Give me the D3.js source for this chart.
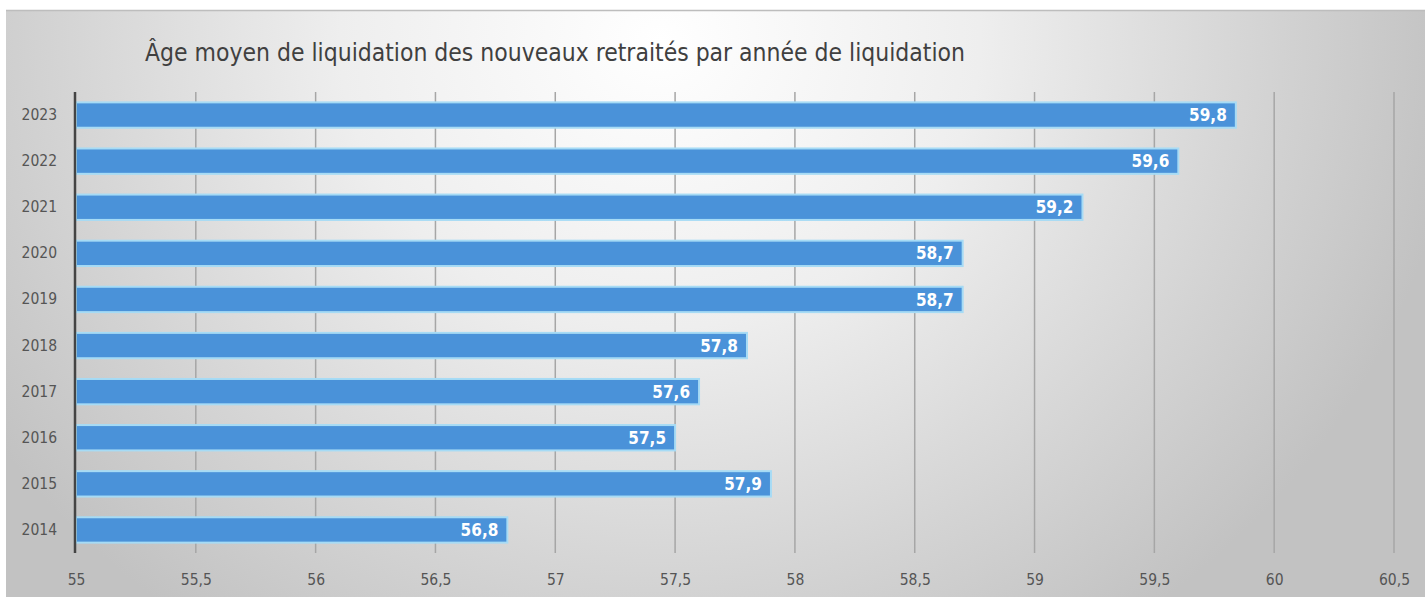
<!DOCTYPE html>
<html>
<head>
<meta charset="utf-8">
<script src="https://cdn.jsdelivr.net/npm/d3@7"></script>
<style>
  body { margin: 0; background: #fff; }
  #chart { width: 1425px; height: 601px; }
</style>
</head>
<body>
<div id="chart"></div>
<script>
// data
const years = ["2023", "2022", "2021", "2020", "2019", "2018", "2017", "2016", "2015", "2014"];
const ages = [59.84, 59.6, 59.2, 58.7, 58.7, 57.8, 57.6, 57.5, 57.9, 56.8];
const xTicks = [55, 55.5, 56, 56.5, 57, 57.5, 58, 58.5, 59, 59.5, 60, 60.5];
const title = "Âge moyen de liquidation des nouveaux retraités par année de liquidation";

const W = 1425, H = 601;
const margin = { top: 92, right: 31, bottom: 48, left: 76 };
const width = W - margin.left - margin.right,
      height = H - margin.top - margin.bottom;

const svg = d3.select("#chart").append("svg")
  .attr("width", W)
  .attr("height", H);

// background gradient of the chart box
const defs = svg.append("defs");
const grad = defs.append("radialGradient")
  .attr("id", "bg")
  .attr("gradientUnits", "userSpaceOnUse")
  .attr("cx", 660).attr("cy", 40).attr("r", 800)
  .attr("gradientTransform", "translate(660,40) scale(1,0.9) translate(-660,-40)");
grad.append("stop").attr("offset", "0%").attr("stop-color", "#ffffff");
grad.append("stop").attr("offset", "40%").attr("stop-color", "#eeeeee");
grad.append("stop").attr("offset", "75%").attr("stop-color", "#d4d4d4");
grad.append("stop").attr("offset", "100%").attr("stop-color", "#c2c2c2");

svg.append("rect")
  .attr("x", 6).attr("y", 10)
  .attr("width", W - 6).attr("height", 587)
  .attr("fill", "url(#bg)");
svg.append("line")
  .attr("x1", 6).attr("x2", W).attr("y1", 10.5).attr("y2", 10.5)
  .attr("stroke", "#bdbdbd").attr("stroke-width", 1.5);

// title
svg.append("text")
  .attr("x", 145)
  .attr("y", 61)
  .attr("textLength", 820)
  .attr("lengthAdjust", "spacingAndGlyphs")
  .style("font-family", "'Liberation Sans Narrow', 'DejaVu Sans Condensed', 'Noto Sans', sans-serif")
  .style("font-size", "25px")
  .style("fill", "#404040")
  .text(title);

const g = svg.append("g")
  .attr("transform", `translate(${margin.left},${margin.top})`);

const x = d3.scaleLinear().domain([55, 60.5]).range([0, width]);
const y = d3.scaleBand().domain(years).range([0, height]).paddingInner(0.45).paddingOuter(0.225);

// gridlines
g.selectAll("line.grid")
  .data(xTicks.slice(1))
  .join("line")
  .attr("class", "grid")
  .attr("x1", d => x(d)).attr("x2", d => x(d))
  .attr("y1", 0).attr("y2", height)
  .attr("stroke", "#a6a6a6")
  .attr("stroke-width", 1.5);

// bars
g.selectAll("rect.bar")
  .data(ages)
  .join("rect")
  .attr("class", "bar")
  .attr("x", x(55))
  .attr("y", (d, i) => y(years[i]))
  .attr("width", d => x(d) - x(55))
  .attr("height", y.bandwidth())
  .attr("fill", "#4a92d9")
  .attr("stroke", "#a6dbf5")
  .attr("stroke-width", 2);

// value labels
g.selectAll("text.val")
  .data(ages)
  .join("text")
  .attr("class", "val")
  .attr("x", d => x(d) - 9)
  .attr("y", (d, i) => y(years[i]) + y.bandwidth() / 2)
  .attr("dy", "0.36em")
  .attr("text-anchor", "end")
  .style("font-family", "'DejaVu Sans Condensed', 'Liberation Sans Narrow', sans-serif")
  .style("font-size", "17px")
  .style("font-weight", "bold")
  .style("fill", "#ffffff")
  .text(d => d3.format(".1f")(d).replace(".", ","));

// y axis
const yAxis = g.append("g")
  .call(d3.axisLeft(y).tickSize(0).tickPadding(19));
yAxis.select(".domain").attr("stroke", "#444").attr("stroke-width", 2.5)
  .attr("d", `M-1,0V${height}`);
yAxis.selectAll("text")
  .style("font-family", "'DejaVu Sans Condensed', 'Liberation Sans Narrow', sans-serif")
  .style("font-size", "15.5px")
  .style("fill", "#555");

// x axis labels
const xAxis = g.append("g")
  .attr("transform", `translate(0,${height})`)
  .call(d3.axisBottom(x).tickValues(xTicks).tickSize(0).tickPadding(21)
    .tickFormat(d => String(d).replace(".", ",")));
xAxis.select(".domain").remove();
xAxis.selectAll("text")
  .style("font-family", "'DejaVu Sans Condensed', 'Liberation Sans Narrow', sans-serif")
  .style("font-size", "15.5px")
  .style("fill", "#555");
</script>
</body>
</html>
